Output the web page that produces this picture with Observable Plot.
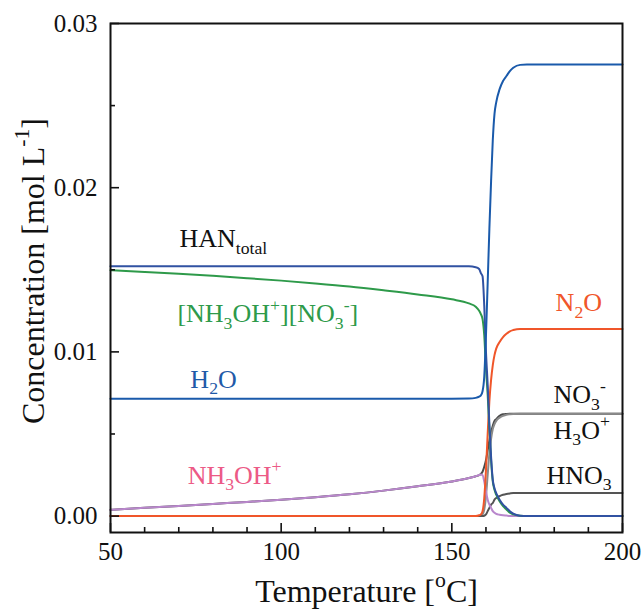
<!DOCTYPE html>
<html>
<head>
<meta charset="utf-8">
<script src="https://cdn.jsdelivr.net/npm/d3@7"></script>
<script src="https://cdn.jsdelivr.net/npm/@observablehq/plot@0.6"></script>
<style>
  html, body { margin: 0; padding: 0; background: #fff; }
</style>
</head>
<body>
<div id="chart"></div>
<script>
// ---------- data ----------
const temperature = [50, 60, 70, 80, 90, 100, 110, 120, 130, 140, 150, 155, 157, 158, 158.5, 159, 159.5, 160, 160.5, 161, 161.5, 162, 162.5, 163, 164, 165, 166, 167, 168, 170, 172, 175, 200];

const hanTotal = [0.01522, 0.01522, 0.01522, 0.01522, 0.01522, 0.01522, 0.01522, 0.01522, 0.01522, 0.01522, 0.01521, 0.01521, 0.01516, 0.01505, 0.0148, 0.0146, 0.0128, 0.0100, 0.0080, 0.0056, 0.0036, 0.0022, 0.0017, 0.0014, 0.0010, 0.0007, 0.0005, 0.0003, 0.00015, 0.00002, 0, 0, 0];
const hanIonPair = [0.01497, 0.01487, 0.01476, 0.01463, 0.01449, 0.01434, 0.01417, 0.01398, 0.01375, 0.0135, 0.0132, 0.01295, 0.01275, 0.0125, 0.0123, 0.0120, 0.0110, 0.0090, 0.0074, 0.0053, 0.0034, 0.0021, 0.0016, 0.0013, 0.0009, 0.0006, 0.0004, 0.0002, 0.0001, 0.00002, 0, 0, 0];
const water = [0.00715, 0.00715, 0.00715, 0.00715, 0.00715, 0.00715, 0.00715, 0.00715, 0.00715, 0.00715, 0.00715, 0.00716, 0.0072, 0.00727, 0.00735, 0.0076, 0.0085, 0.0110, 0.0142, 0.0175, 0.0204, 0.0229, 0.0245, 0.0252, 0.0260, 0.0265, 0.0268, 0.0271, 0.0273, 0.02748, 0.0275, 0.0275, 0.0275];
const nitrousOxide = [0, 0, 0, 0, 0, 0, 0, 0, 0, 0, 0, 0, 0, 0.00005, 0.0001, 0.0003, 0.0011, 0.0028, 0.0050, 0.0070, 0.0083, 0.0092, 0.0098, 0.0102, 0.0106, 0.0109, 0.0111, 0.01125, 0.01133, 0.0114, 0.0114, 0.0114, 0.0114];
const hydroxylammonium = [0.00038, 0.0005, 0.00062, 0.00074, 0.00086, 0.00099, 0.00115, 0.00133, 0.00155, 0.00181, 0.00211, 0.00232, 0.00243, 0.0025, 0.00253, 0.0025, 0.0021, 0.0015, 0.0010, 0.0007, 0.0005, 0.0003, 0.0002, 0.00013, 0.00008, 0.00005, 0.00003, 0.00001, 0, 0, 0, 0, 0];
const nitrate = [0.00038, 0.0005, 0.00062, 0.00074, 0.00086, 0.00099, 0.00115, 0.00133, 0.00155, 0.00181, 0.00211, 0.00232, 0.00243, 0.0025, 0.00256, 0.0027, 0.0030, 0.0034, 0.0040, 0.0046, 0.0051, 0.0055, 0.0058, 0.0059, 0.0061, 0.0062, 0.00622, 0.00623, 0.00623, 0.00623, 0.00623, 0.00623, 0.00623];
const hydronium = [0, 0, 0, 0, 0, 0, 0, 0, 0, 0, 0, 0, 0, 0, 0.00002, 0.0001, 0.0004, 0.0012, 0.0025, 0.0038, 0.0047, 0.0053, 0.0056, 0.0058, 0.0060, 0.0061, 0.00617, 0.0062, 0.00622, 0.00623, 0.00623, 0.00623, 0.00623];
const nitricAcid = [0, 0, 0, 0, 0, 0, 0, 0, 0, 0, 0, 0, 0, 0, 0, 0, 0.00002, 0.0001, 0.0003, 0.0005, 0.0007, 0.0008, 0.0010, 0.0011, 0.00122, 0.0013, 0.00135, 0.00138, 0.0014, 0.0014, 0.0014, 0.0014, 0.0014];

// draw order (first = bottom)
const seriesNames = ["NO3-", "H3O+", "HNO3", "NH3OH+", "N2O", "HAN ion pair", "HAN total", "H2O"];
const seriesValues = [nitrate, hydronium, nitricAcid, hydroxylammonium, nitrousOxide, hanIonPair, hanTotal, water];
const seriesColors = ["#4a4a4a", "#8a8a8a", "#555555", "#b987cc", "#f0562a", "#2e9a4a", "#3152a2", "#1a5aab"];

// curve labels
const labelText = ["HAN_{total}", "[NH_{3}OH^{+}][NO_{3}^{-}]", "H_{2}O", "NH_{3}OH^{+}", "N_{2}O", "NO_{3}^{-}", "H_{3}O^{+}", "HNO_{3}"];
const labelT = [70.2, 69.6, 73.4, 72.6, 180.4, 179.8, 179.8, 177.7];
const labelV = [0.01636, 0.01179, 0.00783, 0.00198, 0.01246, 0.00686, 0.00472, 0.00198];
const labelColor = ["#111111", "#2e9a4a", "#1f5aa8", "#ec5a86", "#f0562a", "#111111", "#111111", "#111111"];

const xMajor = [50, 100, 150, 200];
const xMinor = [60, 70, 80, 90, 110, 120, 130, 140, 160, 170, 180, 190];
const yMajor = [0, 0.01, 0.02, 0.03];
const yMinor = [0.005, 0.015, 0.025];

const xTitle = "Temperature [^{o}C]";
const yTitle = "Concentration [mol L^{-1}]";

// ---------- build tables ----------
const seriesTables = seriesNames.map((name, s) =>
  temperature.map((t, i) => ({series: name, T: t, v: seriesValues[s][i]})));
const labelTable = labelText.map((t, i) => ({label: t, T: labelT[i], v: labelV[i], color: labelColor[i]}));

const FONT = "'Liberation Serif', 'Times New Roman', serif";

const chart = Plot.plot({
  width: 643,
  height: 610,
  marginLeft: 110,
  marginRight: 21,
  marginTop: 23,
  marginBottom: 78,
  style: {fontFamily: FONT, fontSize: "25px", background: "#fff", color: "#111"},
  x: {domain: [50, 200], label: null},
  y: {domain: [-0.001, 0.03], label: null},
  color: {type: "identity"},
  marks: [
    ...seriesTables.map((rows, s) => Plot.line(rows, {
      x: "T", y: "v", stroke: seriesColors[s], strokeWidth: 2, curve: "monotone-x"
    })),
    Plot.text(labelTable, {x: "T", y: "v", text: "label", fill: "color", textAnchor: "start", lineAnchor: "bottom", fontSize: 26}),
    // tick labels
    Plot.axisX(xMajor, {tickSize: 0, tickPadding: 10, fontSize: 25, label: null, tickFormat: d => String(d)}),
    Plot.axisY(yMajor, {tickSize: 0, tickPadding: 13, fontSize: 25, label: null, tickFormat: d3.format(".2f")}),
    // inward ticks
    Plot.axisX(xMajor, {tickSize: -9, strokeWidth: 1.6, label: null, tickFormat: () => ""}),
    Plot.axisX(xMinor, {tickSize: -5, strokeWidth: 1.6, label: null, tickFormat: () => ""}),
    Plot.axisY(yMajor, {tickSize: -9, strokeWidth: 1.6, label: null, tickFormat: () => ""}),
    Plot.axisY(yMinor, {tickSize: -5, strokeWidth: 1.6, label: null, tickFormat: () => ""}),
    Plot.frame({stroke: "#111", strokeWidth: 2}),
    // axis titles
    Plot.text([xTitle], {frameAnchor: "bottom", textAnchor: "middle", dy: 69, lineAnchor: "bottom", fontSize: 32, fill: "#111"}),
    Plot.text([yTitle], {frameAnchor: "left", textAnchor: "middle", rotate: -90, dx: -67, dy: -7, lineAnchor: "bottom", fontSize: 32, fill: "#111"})
  ]
});

// turn _{..} / ^{..} markup into sub/superscript tspans
function richText(root) {
  const ns = "http://www.w3.org/2000/svg";
  root.querySelectorAll("text").forEach(el => {
    const s = el.textContent;
    if (!/[_^]\{/.test(s)) return;
    el.textContent = "";
    const re = /([_^])\{([^}]*)\}|([^_^]+)/g;
    let m, off = 0;
    while ((m = re.exec(s))) {
      const ts = document.createElementNS(ns, "tspan");
      if (m[3] !== undefined) {
        ts.textContent = m[3];
        if (off) { ts.setAttribute("dy", `${-off}em`); off = 0; }
      } else {
        const target = m[1] === "_" ? 0.24 : -0.45;
        ts.setAttribute("font-size", "68%");
        ts.setAttribute("dy", `${(target - off) / 0.68}em`);
        off = target;
        ts.textContent = m[2];
      }
      el.appendChild(ts);
    }
  });
}
richText(chart);
document.getElementById("chart").appendChild(chart);
</script>
</body>
</html>
